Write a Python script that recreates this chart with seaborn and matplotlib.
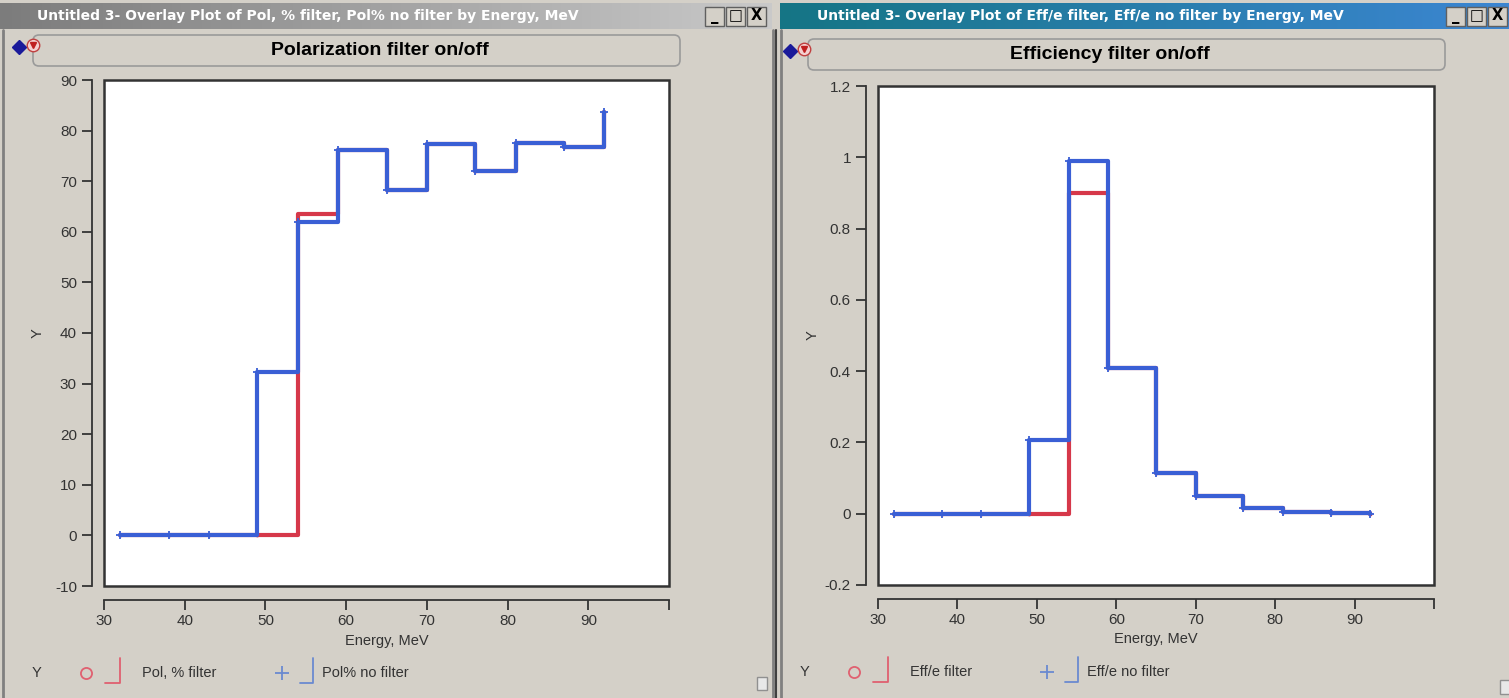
import numpy as np
import pandas as pd
import matplotlib
matplotlib.use("Agg")
import matplotlib.pyplot as plt
import seaborn as sns
from matplotlib.patches import Rectangle, FancyBboxPatch
from matplotlib.colors import LinearSegmentedColormap

# ---- data ----
energy = [32, 38, 43, 49, 54, 59, 65, 70, 76, 81, 87, 92]
pol_filter = [0, 0, 0, 0, 63.5, 76.1, 68.2, 77.4, 72.0, 77.5, 76.8, 83.7]
pol_no_filter = [0, 0, 0, 32.2, 62.0, 76.1, 68.2, 77.4, 72.0, 77.5, 76.8, 83.7]
eff_filter = [0, 0, 0, 0, 0.90, 0.41, 0.114, 0.05, 0.016, 0.004, 0.0015, 0]
eff_no_filter = [0, 0, 0, 0.207, 0.99, 0.41, 0.114, 0.05, 0.016, 0.004, 0.0015, 0]

x_ticks = [30, 40, 50, 60, 70, 80, 90, 100]
x_ticklabels = ["30", "40", "50", "60", "70", "80", "90", ""]
pol_yticks = [-10, 0, 10, 20, 30, 40, 50, 60, 70, 80, 90]
eff_yticks = [-0.2, 0, 0.2, 0.4, 0.6, 0.8, 1.0, 1.2]
eff_yticklabels = ["-0.2", "0", "0.2", "0.4", "0.6", "0.8", "1", "1.2"]

sns.set_style("ticks")
plt.rcParams["font.family"] = ["Liberation Sans", "DejaVu Sans"]

GRAY = "#d4d0c8"
RED = "#d6384a"
BLUE = "#3a5fd5"
W, H = 1509, 698

fig = plt.figure(figsize=(W / 100, H / 100), dpi=100, facecolor=GRAY)

# chrome layer in pixel coords (y down)
bg = fig.add_axes([0, 0, 1, 1], zorder=-1)
bg.set_xlim(0, W)
bg.set_ylim(H, 0)
bg.axis("off")

def title_bar(x0, x1, c0, c1, text, bx):
    cmap = LinearSegmentedColormap.from_list("tb", [c0, c1])
    bg.imshow(np.linspace(0, 1, 256).reshape(1, -1), cmap=cmap, aspect="auto",
              extent=[x0, x1, 29, 3], zorder=1)
    bg.text(x0 + 37, 16, text, color="white", fontsize=10, fontweight="bold",
            family=["DejaVu Sans"], va="center", zorder=2)
    # window buttons
    for i, g in enumerate(["_", "□", "X"]):
        bg.add_patch(Rectangle((bx + i * 21, 7), 19, 19, fc=GRAY, ec="#606060", lw=1, zorder=2))
        bg.text(bx + i * 21 + 9.5, 16, g, ha="center", va="center", fontsize=10.5,
                fontweight="bold", color="black", family=["DejaVu Sans"], zorder=3)

bg.imshow(np.zeros((1, 1)), cmap="gray", extent=[0, W, H, 0], alpha=0)
title_bar(0, 772, "#7c7c7c", "#c9c9c9",
          "Untitled 3- Overlay Plot of Pol, % filter, Pol% no filter by Energy, MeV", 705)
title_bar(780, W, "#157585", "#3c86d2",
          "Untitled 3- Overlay Plot of Eff/e filter, Eff/e no filter by Energy, MeV", 1446)

# window borders
for xv, c, lw in [(3, "#808080", 2), (773, "#808080", 2), (776, "#404040", 1.5), (781, "#808080", 2)]:
    bg.plot([xv, xv], [30, H], color=c, lw=lw, zorder=2)

# outline headers
def header(x0, x1, y0, y1, text, tx, icon_x, icon_y):
    bg.add_patch(FancyBboxPatch((x0, y0), x1 - x0, y1 - y0, boxstyle="round,pad=0,rounding_size=6",
                                fc=GRAY, ec="#9a9a9a", lw=1.2, zorder=2))
    bg.text(tx, (y0 + y1) / 2, text, ha="center", va="center",
            fontsize=14, fontweight="bold", color="black", zorder=3)
    bg.plot(icon_x, icon_y, marker="D", ms=7, color="#1a1a9a", zorder=3)
    bg.plot(icon_x + 14, icon_y - 2, marker="o", ms=9, mfc="#f4d0d0", mec="#c04040", zorder=3)
    bg.plot(icon_x + 14, icon_y - 2, marker="v", ms=4, color="#c02020", zorder=4)

header(33, 680, 35, 66, "Polarization filter on/off", 380, 19, 47)
header(808, 1445, 39, 70, "Efficiency filter on/off", 1110, 790, 51)

# bottom legends
def legend_row(x, y, lab1, lab2, dx2):
    bg.text(x, y, "Y", fontsize=10.5, va="center", ha="center", color="#333")
    bg.plot(x + 49, y, marker="o", ms=8, mfc="none", mec="#e06070", mew=1.3)
    bg.plot([x + 68, x + 83, x + 83], [y + 10, y + 10, y - 15], color="#e06070", lw=1.3)
    bg.text(x + 105, y, lab1, fontsize=10.5, va="center", color="#333")
    bg.plot(x + dx2, y, marker="+", ms=10, color="#6a8ad0", mew=1.3)
    bg.plot([x + dx2 + 18, x + dx2 + 31, x + dx2 + 31], [y + 10, y + 10, y - 15], color="#6a8ad0", lw=1.3)
    bg.text(x + dx2 + 40, y, lab2, fontsize=10.5, va="center", color="#333")

legend_row(37, 673, "Pol, % filter", "Pol% no filter", 245)
legend_row(805, 672, "Eff/e filter", "Eff/e no filter", 242)
bg.add_patch(Rectangle((757, 677), 10, 13, fc="#e8e8e8", ec="#909090", lw=1))
bg.add_patch(Rectangle((1500, 680), 10, 14, fc="#e8e8e8", ec="#909090", lw=1))

# ---- plot panels ----
def panel(rect, y1, y2, lab1, lab2, ylim, yticks, yticklabels):
    ax = fig.add_axes(rect)
    ax.set_facecolor("white")
    df = pd.DataFrame({"Energy, MeV": energy, lab1: y1, lab2: y2})
    sns.lineplot(data=df, x="Energy, MeV", y=lab1, ax=ax, color=RED, lw=3,
                 drawstyle="steps-post", estimator=None, marker="o", ms=2, mec=RED, zorder=2)
    sns.lineplot(data=df, x="Energy, MeV", y=lab2, ax=ax, color=BLUE, lw=3,
                 drawstyle="steps-post", estimator=None, marker="+", ms=6, mew=1.3, mec=BLUE, zorder=3)
    ax.set_xlim(30, 100)
    ax.set_ylim(*ylim)
    ax.set_xticks(x_ticks)
    ax.set_xticklabels(x_ticklabels)
    ax.set_yticks(yticks)
    ax.set_yticklabels(yticklabels)
    ax.grid(False)
    sns.despine(ax=ax, offset={"left": 9, "bottom": 10})
    for s in ("left", "bottom"):
        ax.spines[s].set_color("#333")
        ax.spines[s].set_linewidth(1.3)
    ax.add_patch(Rectangle((0, 0), 1, 1, transform=ax.transAxes, fill=False,
                           ec="#333", lw=1.8, clip_on=False, zorder=5))
    ax.tick_params(axis="both", direction="out", length=7, width=1.3, color="#333",
                   labelsize=11, labelcolor="#333")
    ax.set_xlabel("Energy, MeV", fontsize=10.5, color="#333")
    ax.set_ylabel("Y", fontsize=10.5, color="#333")
    ax.xaxis.set_label_coords(0.5, -0.095)
    ax.yaxis.set_label_coords(-0.105, 0.5)
    return ax

panel([104 / W, (H - 586) / H, (669 - 104) / W, (586 - 80) / H],
      pol_filter, pol_no_filter, "Pol, % filter", "Pol% no filter",
      (-10, 90), pol_yticks, [str(t) for t in pol_yticks])
panel([878 / W, (H - 585) / H, (1434 - 878) / W, (585 - 86) / H],
      eff_filter, eff_no_filter, "Eff/e filter", "Eff/e no filter",
      (-0.2, 1.2), eff_yticks, eff_yticklabels)

fig.savefig("out.png", dpi=100, facecolor=GRAY)
